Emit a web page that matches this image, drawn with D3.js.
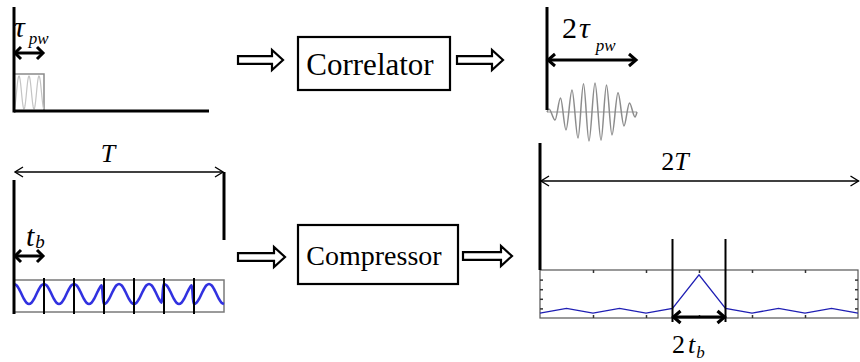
<!DOCTYPE html>
<html>
<head>
<meta charset="utf-8">
<script src="https://cdn.jsdelivr.net/npm/d3@7"></script>
<style>
  html, body { margin: 0; padding: 0; background: #fff; }
  svg { display: block; }
</style>
</head>
<body>
<svg id="fig" width="860" height="362"></svg>
<script>
// ---- data ----
// Barker-7 phase code carried by the long pulse (one carrier cycle per bit)
const barkerCode = [1, 1, 1, -1, -1, 1, -1];
// Compressor output: aperiodic autocorrelation of the code, lags -6..6
const compressedLags = [-6, -5, -4, -3, -2, -1, 0, 1, 2, 3, 4, 5, 6];
const compressedValues = [-1, 0, -1, 0, -1, 0, 7, 0, -1, 0, -1, 0, -1];
const compressedXTicks = [-4, -2, 0, 2, 4];
const compressedYTicks = [0, 2, 4, 6];
// Correlator output of the short pulse: extrema of the oscillation (time in units of tau_pw)
const corrTimes = [-1, -0.956, -0.822, -0.7, -0.578, -0.444, -0.311, -0.189, -0.067,
                   0.067, 0.2, 0.322, 0.444, 0.578, 0.711, 0.833, 0.956, 1];
const corrValues = [0, 0.1, -0.28, 0.48, -0.62, 0.76, -0.9, 0.97, -1,
                    1, -0.97, 0.93, -0.79, 0.66, -0.48, 0.31, -0.17, 0];
const pulseCycles = 3;
const blockLabels = ["Correlator", "Compressor"];

const FONT = "'Liberation Serif', serif";

const svg = d3.select("#fig");
svg.append("rect").attr("width", 860).attr("height", 362).attr("fill", "#fff");

// ---- helpers ----
function doubleArrow(g, x1, x2, y, w, hl, hh) {
  g.append("line").attr("x1", x1 + 1).attr("x2", x2 - 1).attr("y1", y).attr("y2", y)
    .attr("stroke", "#000").attr("stroke-width", w);
  g.append("path")
    .attr("d", `M${x1 + hl},${y - hh}L${x1 + 1},${y}L${x1 + hl},${y + hh}` +
               `M${x2 - hl},${y - hh}L${x2 - 1},${y}L${x2 - hl},${y + hh}`)
    .attr("fill", "none").attr("stroke", "#000").attr("stroke-width", w)
    .attr("stroke-linejoin", "miter").attr("stroke-linecap", "butt");
}
function hollowArrow(g, x0, x1, y, sh, hh, hl) {
  const xh = x1 - hl;
  g.append("path")
    .attr("d", `M${x0},${y - sh}L${xh},${y - sh}L${xh},${y - hh}L${x1},${y}` +
               `L${xh},${y + hh}L${xh},${y + sh}L${x0},${y + sh}Z`)
    .attr("fill", "#fff").attr("stroke", "#000").attr("stroke-width", 2.2)
    .attr("stroke-linejoin", "miter");
}
function label(g, x, y, size) {
  return g.append("text").attr("x", x).attr("y", y).style("font-size", size + "px")
    .style("font-family", FONT).attr("fill", "#000");
}
function run(t, s, italic, size, dx, dy) {
  const sp = t.append("tspan").style("font-style", italic ? "italic" : "normal").text(s);
  if (size) sp.style("font-size", size + "px");
  if (dx) sp.attr("dx", dx);
  if (dy) sp.attr("dy", dy);
  return sp;
}

// ---- top left: short pulse ----
const gTL = svg.append("g");
const xPulse = d3.scaleLinear().domain([0, 1]).range([14, 44]);
const yPulse = d3.scaleLinear().domain([-1, 1]).range([109, 76]);
gTL.append("rect").attr("x", xPulse(0)).attr("y", 74).attr("width", xPulse(1) - xPulse(0)).attr("height", 37)
  .attr("fill", "none").attr("stroke", "#8a8a8a").attr("stroke-width", 1.5);
gTL.append("path")
  .datum(d3.range(0, 1.0001, 0.01))
  .attr("d", d3.line().x(t => xPulse(t)).y(t => yPulse(-Math.cos(2 * Math.PI * pulseCycles * t))))
  .attr("fill", "none").attr("stroke", "#c4c4c4").attr("stroke-width", 1.2);
gTL.append("line").attr("x1", 14).attr("x2", 209).attr("y1", 111).attr("y2", 111)
  .attr("stroke", "#000").attr("stroke-width", 3);
gTL.append("line").attr("x1", 14).attr("x2", 14).attr("y1", 7).attr("y2", 112.5)
  .attr("stroke", "#000").attr("stroke-width", 3);
doubleArrow(gTL, xPulse(0), xPulse(1), 53, 3, 7, 6);
{
  const t = label(gTL, 14, 37, 30);
  run(t, "τ", true);
  run(t, "pw", true, 17, 4, 7);
}

// ---- top right: correlator output ----
const gTR = svg.append("g");
const xCorr = d3.scaleLinear().domain([-1, 1]).range([547, 637]);
const yCorr = d3.scaleLinear().domain([-1, 1]).range([141, 83]);
gTR.append("line").attr("x1", xCorr(-1)).attr("x2", xCorr(1)).attr("y1", yCorr(0)).attr("y2", yCorr(0))
  .attr("stroke", "#9a9a9a").attr("stroke-width", 1.2);
gTR.append("path")
  .datum(corrTimes.map((t, i) => [t, corrValues[i]]))
  .attr("d", d3.line().x(d => xCorr(d[0])).y(d => yCorr(d[1])).curve(d3.curveMonotoneX))
  .attr("fill", "none").attr("stroke", "#8c8c8c").attr("stroke-width", 1.5);
gTR.append("line").attr("x1", 547).attr("x2", 547).attr("y1", 7).attr("y2", 110)
  .attr("stroke", "#000").attr("stroke-width", 3);
doubleArrow(gTR, xCorr(-1), xCorr(1), 60, 3, 8, 6);
{
  const t = label(gTR, 562, 38, 30);
  run(t, "2", false);
  run(t, "τ", true, null, 2);
  run(t, "pw", true, 17, 6, 13);
}

// ---- bottom left: Barker-coded long pulse ----
const gBL = svg.append("g");
const xBit = d3.scaleLinear().domain([0, barkerCode.length]).range([14, 224]);
const yWave = d3.scaleLinear().domain([-1, 1]).range([304, 284]);
gBL.append("rect").attr("x", xBit(0)).attr("y", 280).attr("width", xBit(7) - xBit(0)).attr("height", 32)
  .attr("fill", "none").attr("stroke", "#7a7a7a").attr("stroke-width", 1.5);
const wavePts = [];
barkerCode.forEach((c, k) => {
  for (let j = 0; j < 12; j++) {
    const t = k + j / 12;
    wavePts.push([t, c * Math.cos(2 * Math.PI * (t - k))]);
  }
});
wavePts.push([barkerCode.length, barkerCode[barkerCode.length - 1]]);
svg.append("defs").append("filter").attr("id", "soft")
  .append("feGaussianBlur").attr("stdDeviation", 0.7);
gBL.append("path")
  .datum(wavePts)
  .attr("d", d3.line().x(d => xBit(d[0])).y(d => yWave(d[1])).curve(d3.curveCatmullRom))
  .attr("fill", "none").attr("stroke", "#3030e0").attr("stroke-width", 2.6)
  .attr("filter", "url(#soft)");
gBL.selectAll("line.bit").data(d3.range(1, barkerCode.length)).join("line")
  .attr("class", "bit")
  .attr("x1", d => xBit(d)).attr("x2", d => xBit(d)).attr("y1", 278).attr("y2", 314)
  .attr("stroke", "#000").attr("stroke-width", 2);
gBL.append("line").attr("x1", 14).attr("x2", 14).attr("y1", 180).attr("y2", 314)
  .attr("stroke", "#000").attr("stroke-width", 3);
gBL.append("line").attr("x1", xBit(7)).attr("x2", xBit(7)).attr("y1", 172).attr("y2", 240)
  .attr("stroke", "#000").attr("stroke-width", 3);
doubleArrow(gBL, xBit(0), xBit(7), 172, 1.4, 9, 5);
label(gBL, 108, 162, 26).style("font-style", "italic").attr("text-anchor", "middle").text("T");
doubleArrow(gBL, xBit(0), xBit(1), 256, 3, 7, 6);
{
  const t = label(gBL, 26, 246, 30);
  run(t, "t", true);
  run(t, "b", true, 19, 1, 2);
}

// ---- bottom right: compressed output ----
const gBR = svg.append("g");
const xLag = d3.scaleLinear().domain([-6, 6]).range([540, 858]);
const yComp = d3.scaleLinear().domain([-2, 8]).range([318, 270]);
gBR.append("rect").attr("x", xLag(-6)).attr("y", yComp(8)).attr("width", xLag(6) - xLag(-6))
  .attr("height", yComp(-2) - yComp(8))
  .attr("fill", "none").attr("stroke", "#555").attr("stroke-width", 1.2);
// inward ticks on the plot frame
const xTop = d3.axisBottom(xLag).tickValues(compressedXTicks).tickSize(3).tickFormat("");
const xBot = d3.axisTop(xLag).tickValues(compressedXTicks).tickSize(3).tickFormat("");
const yLeft = d3.axisRight(yComp).tickValues(compressedYTicks).tickSize(3).tickFormat("");
const yRight = d3.axisLeft(yComp).tickValues(compressedYTicks).tickSize(3).tickFormat("");
[[xTop, `translate(0,${yComp(8)})`], [xBot, `translate(0,${yComp(-2)})`],
 [yLeft, `translate(${xLag(-6)},0)`], [yRight, `translate(${xLag(6)},0)`]].forEach(([ax, tr]) => {
  const a = gBR.append("g").attr("transform", tr).call(ax);
  a.select(".domain").remove();
  a.selectAll("line").attr("stroke", "#333").attr("stroke-width", 1.5);
});
gBR.append("path")
  .datum(compressedLags.map((l, i) => [l, compressedValues[i]]))
  .attr("d", d3.line().x(d => xLag(d[0])).y(d => yComp(d[1])))
  .attr("fill", "none").attr("stroke", "#1f1fb4").attr("stroke-width", 1.3);
gBR.selectAll("line.mark").data([-1, 1]).join("line").attr("class", "mark")
  .attr("x1", d => xLag(d)).attr("x2", d => xLag(d)).attr("y1", 239).attr("y2", 322)
  .attr("stroke", "#000").attr("stroke-width", 2);
gBR.append("line").attr("x1", 540).attr("x2", 540).attr("y1", 143).attr("y2", 270)
  .attr("stroke", "#000").attr("stroke-width", 3);
doubleArrow(gBR, xLag(-6), xLag(6) + 1.5, 181, 1.4, 9, 5);
{
  const t = label(gBR, 675, 170, 26).attr("text-anchor", "middle");
  run(t, "2", false);
  run(t, "T", true);
}
doubleArrow(gBR, xLag(-1), xLag(1), 317, 3.2, 8, 6);
{
  const t = label(gBR, 672, 353, 26);
  run(t, "2", false);
  run(t, "t", true, null, 3);
  run(t, "b", true, 17, 1, 5);
}

// ---- processing blocks ----
const gMid = svg.append("g");
const blocks = [
  {label: blockLabels[0], x: 298, y: 37, w: 152, h: 53, tx: 370, ty: 75, fs: 31, a: [238, 283, 60], b: [457, 503, 60]},
  {label: blockLabels[1], x: 298, y: 225, w: 160, h: 59, tx: 374, ty: 265, fs: 28, a: [238, 285, 257], b: [463, 512, 256]}
];
blocks.forEach(b => {
  gMid.append("rect").attr("x", b.x).attr("y", b.y).attr("width", b.w).attr("height", b.h)
    .attr("fill", "#fff").attr("stroke", "#000").attr("stroke-width", 2.2);
  label(gMid, b.tx, b.ty, b.fs).attr("text-anchor", "middle").text(b.label);
  hollowArrow(gMid, b.a[0], b.a[1], b.a[2], 3.8, 10, 11);
  hollowArrow(gMid, b.b[0], b.b[1], b.b[2], 3.8, 10, 11);
});
</script>
</body>
</html>
